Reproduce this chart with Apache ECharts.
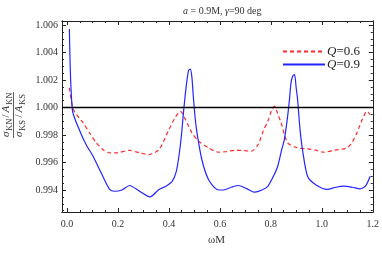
<!DOCTYPE html>
<html><head><meta charset="utf-8">
<script src="https://cdn.jsdelivr.net/npm/echarts@6/dist/echarts.min.js"></script>
<style>html,body{margin:0;padding:0;background:#fff}#c{width:382px;height:253px}</style>
</head><body><div id="c"></div>
<script>
// ---- data ----
const xTickLabels = [0.0, 0.2, 0.4, 0.6, 0.8, 1.0, 1.2];
const yTickLabels = [0.994, 0.996, 0.998, 1.000, 1.002, 1.004, 1.006];
const xBlue = [0.009,0.021,0.05,0.075,0.102,0.135,0.167,0.186,0.215,0.245,0.285,0.325,0.361,0.39,0.413,0.428,0.439,0.449,0.458,0.468,0.477,0.484,0.490,0.496,0.503,0.51,0.529,0.555,0.588,0.615,0.645,0.672,0.705,0.737,0.765,0.788,0.81,0.827,0.842,0.853,0.864,0.873,0.879,0.886,0.893,0.899,0.905,0.914,0.924,0.944,0.975,1.021,1.055,1.086,1.12,1.151,1.172,1.19];
const yBlue = [1.00572,0.9998,0.9983,0.9973,0.99646,0.9952,0.99404,0.99391,0.994,0.99433,0.9939,0.9935,0.99404,0.9943,0.99464,0.9953,0.99646,0.9980,0.99985,1.0016,1.0027,1.0028,1.0022,1.0007,0.9992,0.99816,0.99622,0.99476,0.99404,0.9940,0.9942,0.99433,0.9941,0.99384,0.9940,0.99427,0.9950,0.99573,0.9969,0.99767,0.9991,1.00058,1.0018,1.0023,1.0024,1.0015,1.00058,0.9985,0.99695,0.995,0.9944,0.99404,0.9942,0.99428,0.9942,0.99409,0.9943,0.995];
const xRed = [0.009,0.025,0.063,0.09,0.115,0.14,0.167,0.2,0.245,0.285,0.322,0.361,0.4,0.425,0.445,0.465,0.49,0.517,0.555,0.594,0.625,0.659,0.69,0.723,0.75,0.77,0.788,0.802,0.814,0.826,0.84,0.866,0.905,0.944,0.975,1.009,1.05,1.099,1.12,1.138,1.158,1.177,1.19];
const yRed = [1.00143,0.99985,0.99889,0.9981,0.99743,0.99695,0.9967,0.99672,0.99689,0.9967,0.99658,0.99695,0.9984,0.9993,0.99973,0.99913,0.99816,0.99755,0.99707,0.99675,0.9968,0.99689,0.99688,0.99682,0.99731,0.9983,0.999,0.99975,1.0001,0.9996,0.99889,0.99743,0.99707,0.997,0.9969,0.99675,0.9969,0.99707,0.9975,0.99816,0.9991,0.99973,0.99949];
const seriesNames = ['Q=0.6', 'Q=0.9'];
const refLine = 1.000;

// ---- helpers ----
function range(a, b, step, dec) { const r = []; for (let i = 0; a + i * step <= b + 1e-9; i++) r.push(+(a + i * step).toFixed(dec)); return r; }
const xMinor = range(0, 1.2, 0.05, 3);
const yMinor = range(0.9925, 1.006, 0.0005, 5);
const SERIF = 'Liberation Serif, DejaVu Serif, serif';
const X_MIN = -0.02, X_MAX = 1.2, Y_MIN = 0.9924, Y_MAX = 1.0063;

function xAx(pos, ticks, len, labels) {
  return {
    type: 'value', min: X_MIN, max: X_MAX, position: pos, gridIndex: 0,
    axisLine: { show: true, onZero: false, lineStyle: { color: '#222', width: 1 } },
    axisTick: { show: true, inside: true, length: len, customValues: ticks, lineStyle: { color: '#222', width: 1 } },
    axisLabel: labels ? { show: true, customValues: xTickLabels, formatter: v => v.toFixed(1), fontFamily: SERIF, fontSize: 10, color: '#333', margin: 7 } : { show: false },
    splitLine: { show: false }
  };
}
function yAx(pos, ticks, len, labels) {
  return {
    type: 'value', min: Y_MIN, max: Y_MAX, position: pos, gridIndex: 0,
    axisLine: { show: true, onZero: false, lineStyle: { color: '#222', width: 1 } },
    axisTick: { show: true, inside: true, length: len, customValues: ticks, lineStyle: { color: '#222', width: 1 } },
    axisLabel: labels ? { show: true, customValues: yTickLabels, formatter: v => v.toFixed(3), fontFamily: SERIF, fontSize: 10, color: '#333', margin: 4 } : { show: false },
    splitLine: { show: false }
  };
}

const chart = echarts.init(document.getElementById('c'), null, { renderer: 'canvas' });
const fracPart = (x, y, t, size, italic) => ({ type: 'text', x: x, y: y, style: { text: t, fontFamily: SERIF, fontSize: size, fontStyle: italic ? 'italic' : 'normal', fill: '#333', align: 'left', verticalAlign: 'bottom' } });

chart.setOption({
  animation: false,
  grid: { left: 62, right: 7, top: 21, bottom: 41 },
  title: {
    text: '{i|a} = 0.9M, {i|γ}=90 deg', left: 178, top: 1,
    textStyle: { fontFamily: SERIF, fontSize: 10, fontWeight: 'normal', color: '#333', rich: { i: { fontFamily: SERIF, fontSize: 10, fontStyle: 'italic', color: '#333' } } }
  },
  legend: {
    orient: 'vertical', left: 277, top: 40, itemWidth: 42, itemHeight: 12, itemGap: 0,
    data: seriesNames,
    itemStyle: { opacity: 0, borderWidth: 0 },
    formatter: n => '{i|Q}' + n.slice(1),
    textStyle: { fontFamily: SERIF, fontSize: 13, color: '#222', padding: [0, 0, 0, -3], rich: { i: { fontFamily: SERIF, fontSize: 13, fontStyle: 'italic', color: '#222' } } }
  },
  xAxis: [xAx('bottom', xTickLabels, 4, true), xAx('bottom', xMinor, 2, false), xAx('top', xTickLabels, 4, false), xAx('top', xMinor, 2, false)],
  yAxis: [yAx('left', yTickLabels, 4, true), yAx('left', yMinor, 2, false), yAx('right', yTickLabels, 4, false), yAx('right', yMinor, 2, false)],
  graphic: [
    { type: 'text', left: 208, top: 235, style: { text: 'ωM', fontFamily: SERIF, fontSize: 11, fill: '#333' } },
    { type: 'group', x: 13, y: 115, rotation: Math.PI / 2, children: [
      fracPart(-22, -1, 'σ', 11, true), fracPart(-16, 1.5, 'KN', 8.5, false), fracPart(-2.5, -1, '/', 11, false), fracPart(2.5, -1, 'A', 11, true), fracPart(10, 1.5, 'KN', 8.5, false),
      { type: 'line', shape: { x1: -23, y1: 0.5, x2: 23, y2: 0.5 }, style: { stroke: '#333', lineWidth: 0.8 } },
      fracPart(-22, 12, 'σ', 11, true), fracPart(-16, 14.5, 'KS', 8.5, false), fracPart(-2.5, 12, '/', 11, false), fracPart(2.5, 12, 'A', 11, true), fracPart(10, 14.5, 'KS', 8.5, false)
    ] }
  ],
  series: [
    { name: seriesNames[0], type: 'line', xAxisIndex: 0, yAxisIndex: 0, data: xRed.map((x, i) => [x, yRed[i]]), showSymbol: false, symbol: 'none', smooth: 0.25,
      lineStyle: { color: '#ff2a2a', width: 1.2, type: [4, 3] }, itemStyle: { color: '#ff2a2a' }, z: 3 },
    { name: seriesNames[1], type: 'line', xAxisIndex: 0, yAxisIndex: 0, data: xBlue.map((x, i) => [x, yBlue[i]]), showSymbol: false, symbol: 'none', smooth: 0.25,
      lineStyle: { color: '#2424ff', width: 1.2 }, itemStyle: { color: '#2424ff' }, z: 4,
      markLine: { silent: true, symbol: ['none', 'none'], label: { show: false }, lineStyle: { color: '#000', width: 1.3, type: 'solid' }, data: [{ yAxis: refLine }] } }
  ]
});
</script></body></html>
